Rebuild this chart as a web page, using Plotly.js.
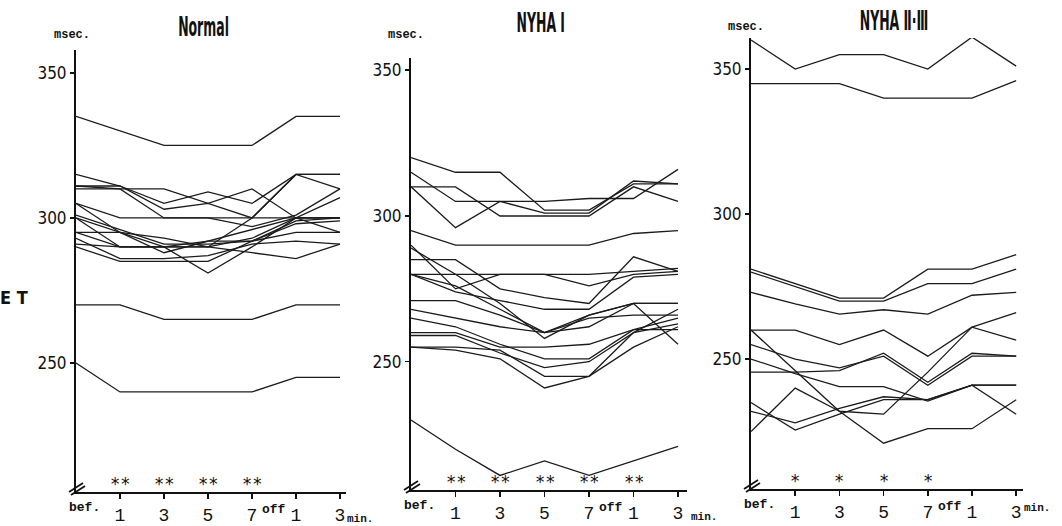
<!DOCTYPE html>
<html><head><meta charset="utf-8">
<script src="https://cdn.plot.ly/plotly-3.0.1.min.js"></script>
<style>html,body{margin:0;padding:0;background:#fff}</style>
</head><body>
<div id="chart" style="width:1062px;height:526px"></div>
<script>
// time points: bef., 1, 3, 5, 7 (min during), off 1, off 3
const timeIndex = [0, 1, 2, 3, 4, 5, 6];
const tickVals = [1, 2, 3, 4, 5, 6];
const tickText = ['1', '3', '5', '7', '1', '3'];
const yTicks = [250, 300, 350];

// ET values (msec) per subject, Normal group
const normalSeries = [
  [335, 330, 325, 325, 325, 335, 335],
  [315, 311, 305, 309, 305, 315, 315],
  [311, 311, 303, 305, 300, 315, 310],
  [311, 310, 300, 300, 297, 301, 310],
  [310, 310, 310, 305, 310, 300, 300],
  [305, 300, 300, 300, 300, 300, 307],
  [305, 295, 293, 290, 293, 300, 300],
  [301, 296, 291, 291, 292, 299, 300],
  [300, 295, 290, 292, 292, 298, 299],
  [300, 290, 290, 290, 300, 315, 315],
  [295, 295, 288, 292, 296, 300, 300],
  [295, 290, 290, 281, 290, 300, 295],
  [293, 286, 286, 287, 291, 292, 291],
  [290, 285, 285, 285, 292, 295, 295],
  [291, 290, 290, 290, 288, 286, 291],
  [270, 270, 265, 265, 265, 270, 270],
  [250, 240, 240, 240, 240, 245, 245]
];

// NYHA I group
const nyha1Series = [
  [320, 315, 315, 302, 302, 311, 311],
  [315, 305, 305, 305, 306, 306, 316],
  [310, 310, 300, 300, 300, 310, 305],
  [310, 296, 305, 301, 301, 312, 311],
  [295, 290, 290, 290, 290, 294, 295],
  [290, 275, 280, 280, 276, 280, 281],
  [289, 280, 270, 258, 266, 270, 270],
  [285, 285, 275, 272, 270, 286, 281],
  [280, 274, 271, 268, 268, 279, 280],
  [280, 280, 280, 280, 280, 281, 282],
  [280, 276, 268, 260, 262, 270, 256],
  [271, 271, 266, 260, 266, 270, 270],
  [268, 265, 262, 260, 265, 266, 266],
  [265, 262, 256, 251, 251, 261, 261],
  [260, 260, 255, 255, 256, 261, 265],
  [259, 259, 253, 248, 250, 260, 263],
  [255, 255, 254, 245, 245, 260, 268],
  [255, 254, 251, 241, 245, 255, 262],
  [230, 220, 211, 216, 211, 216, 221]
];

// NYHA II-III group
const nyha23Series = [
  [360, 350, 355, 355, 350, 361, 351],
  [345, 345, 345, 340, 340, 340, 346],
  [281, 276, 271, 271, 281, 281, 286],
  [280, 275, 270, 270, 276, 276, 281],
  [273, 269, 265.5, 267, 265.5, 272, 273],
  [260, 260, 255, 260, 251, 261, 266],
  [255, 250, 247, 251, 241, 251, 251],
  [245.5, 245.5, 246, 252, 242, 252, 251],
  [250, 245, 240.5, 240.5, 235.5, 241, 241],
  [260, 246, 232, 231, 245.5, 261, 256.5],
  [235, 225.5, 231, 236, 236, 241, 231],
  [225, 240, 232, 221, 226, 226, 236],
  [232, 228, 233, 237, 236, 241, 241]
];

const panelTitles = ['Normal', 'NYHA Ⅰ', 'NYHA Ⅱ·Ⅲ'];
const normalStars = ['**', '**', '**', '**'];
const nyha1Stars = ['**', '**', '**', '**', '**'];
const nyha23Stars = ['*', '*', '*', '*'];

const W = 1062, H = 526;
const px = (x) => x / W;
const py = (y) => 1 - y / H;

const panels = [
  {series: normalSeries, stars: normalStars, xa: 'x', ya: 'y', left: 76, right: 346, top: 50, bottom: 492,
   xr: [0, 6.136], yr: [205.5, 357.9], titleX: 203, titleY: 27, msecX: 72, msecY: 35, minX: 360, minY: 519},
  {series: nyha1Series, stars: nyha1Stars, xa: 'x2', ya: 'y2', left: 411, right: 687, top: 58, bottom: 490,
   xr: [0, 6.202], yr: [206, 354.2], titleX: 541, titleY: 23, msecX: 406, msecY: 35, minX: 704, minY: 517},
  {series: nyha23Series, stars: nyha23Stars, xa: 'x3', ya: 'y3', left: 751, right: 1023, top: 38, bottom: 489,
   xr: [0, 6.154], yr: [205.2, 360.7], titleX: 894, titleY: 21, msecX: 746, msecY: 27, minX: 1037, minY: 508}
];

const lineColor = '#1b1b1b';
const narrow = '"Liberation Sans Narrow", "DejaVu Sans Condensed", "Arial Narrow", "Liberation Sans", sans-serif';
const mono = '"Liberation Mono", "DejaVu Sans Mono", monospace';

const traces = [];
const layout = {
  width: W, height: H,
  margin: {l: 0, r: 0, t: 0, b: 0},
  paper_bgcolor: '#fff', plot_bgcolor: '#fff',
  showlegend: false,
  annotations: [], shapes: []
};

panels.forEach((p, i) => {
  p.series.forEach(s => traces.push({
    x: timeIndex, y: s, xaxis: p.xa, yaxis: p.ya, type: 'scatter', mode: 'lines',
    line: {color: lineColor, width: 1.3}, hoverinfo: 'skip'
  }));
  const sfx = i === 0 ? '' : String(i + 1);
  layout['xaxis' + sfx] = {
    domain: [px(p.left), px(p.right)], range: p.xr, anchor: 'y' + sfx,
    showgrid: false, zeroline: false, showline: true, linecolor: '#111', linewidth: 2,
    ticks: 'outside', ticklen: 5, tickwidth: 1.5, tickcolor: '#111',
    tickvals: tickVals, ticktext: tickText,
    tickfont: {family: mono, size: 18, color: '#111'}, fixedrange: true
  };
  layout['yaxis' + sfx] = {
    domain: [py(p.bottom), py(p.top)], range: p.yr, anchor: 'x' + sfx,
    showgrid: false, zeroline: false, showline: true, linecolor: '#111', linewidth: 2,
    ticks: 'outside', ticklen: 4, tickwidth: 1.5, tickcolor: '#111',
    tickvals: yTicks, ticktext: yTicks.map(String),
    tickfont: {family: narrow, size: 17, color: '#111'}, fixedrange: true
  };
  const A = layout.annotations;
  A.push({text: '<b>' + panelTitles[i] + '</b>', xref: 'paper', yref: 'paper', x: px(p.titleX), y: py(p.titleY),
          xanchor: 'center', yanchor: 'middle', showarrow: false, font: {family: narrow, size: 21, color: '#111'}});
  A.push({text: '<b>msec.</b>', xref: 'paper', yref: 'paper', x: px(p.msecX), y: py(p.msecY),
          xanchor: 'center', yanchor: 'middle', showarrow: false, font: {family: mono, size: 12, color: '#111'}});
  A.push({text: '<b>min.</b>', xref: 'paper', yref: 'paper', x: px(p.minX), y: py(p.minY),
          xanchor: 'center', yanchor: 'middle', showarrow: false, font: {family: mono, size: 11, color: '#111'}});
  A.push({text: '<b>bef.</b>', xref: p.xa, yref: 'paper', x: 0.2, y: py(p.bottom + 15),
          xanchor: 'center', yanchor: 'middle', showarrow: false, font: {family: mono, size: 13, color: '#111'}});
  A.push({text: '<b>off</b>', xref: p.xa, yref: 'paper', x: 4.5, y: py(p.bottom + 17),
          xanchor: 'center', yanchor: 'middle', showarrow: false, font: {family: mono, size: 13, color: '#111'}});
  p.stars.forEach((st, k) => A.push({
    text: st, xref: p.xa, yref: 'paper', x: k + 1, y: py(p.bottom - 8),
    xanchor: 'center', yanchor: 'middle', showarrow: false,
    font: {family: '"DejaVu Sans Mono", monospace', size: 17, color: '#111'}
  }));
  // axis break mark at the corner
  const cx = p.left, cy = p.bottom;
  [[-7, 0, 7, -9], [-5, 3, 9, -6]].forEach(d => layout.shapes.push({
    type: 'line', xref: 'paper', yref: 'paper',
    x0: px(cx + d[0]), y0: py(cy + d[1]), x1: px(cx + d[2]), y1: py(cy + d[3]),
    line: {color: '#111', width: 1.8}
  }));
});

layout.annotations.push({text: '<b>E T</b>', xref: 'paper', yref: 'paper', x: px(14), y: py(297),
  xanchor: 'center', yanchor: 'middle', showarrow: false, font: {family: narrow, size: 18, color: '#111'}});

Plotly.newPlot('chart', traces, layout, {staticPlot: true, displayModeBar: false}).then(() => {
  // condense the panel titles to resemble the original condensed typeface
  document.querySelectorAll('.annotation-text').forEach(t => {
    if (panelTitles.includes(t.textContent)) {
      t.style.transformBox = 'fill-box';
      t.style.transformOrigin = 'center';
      t.style.transform = 'scale(0.66, 1.3)';
    }
  });
});
</script>
</body></html>
